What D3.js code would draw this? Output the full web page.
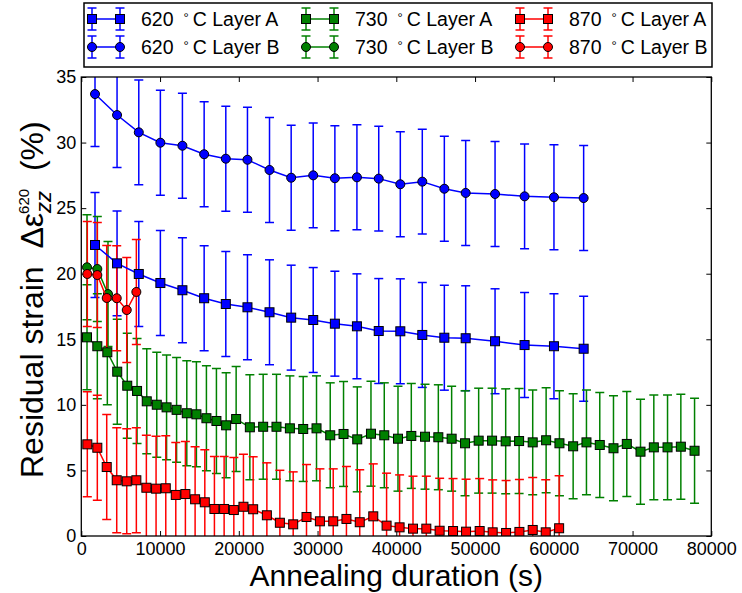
<!DOCTYPE html>
<html>
<head>
<meta charset="utf-8">
<script src="https://cdn.jsdelivr.net/npm/d3@7"></script>
<style>
  html, body { margin: 0; padding: 0; background: #fff; }
  svg { display: block; }
  text { font-family: "Liberation Sans", Arial, sans-serif; fill: #000; }
</style>
</head>
<body>
<svg id="chart" width="742" height="593"></svg>
<script>
// Annealing time (s) and residual strain (%) per anneal temperature and layer
const time620 = [1740, 4540, 7300, 10040, 12840, 15600, 18350, 21100, 23900, 26650, 29450,
  32200, 35000, 37770, 40510, 43300, 46100, 48810, 52540, 56290, 60020, 63790];
const strain620A = [22.19, 20.79, 19.98, 19.29, 18.74, 18.13, 17.69, 17.44, 17.06, 16.65, 16.47,
  16.19, 15.99, 15.63, 15.61, 15.33, 15.12, 15.08, 14.85, 14.56, 14.47, 14.28];
const strain620B = [33.70, 32.10, 30.78, 29.99, 29.76, 29.11, 28.77, 28.69, 27.91, 27.32, 27.50,
  27.28, 27.35, 27.25, 26.82, 27.02, 26.48, 26.16, 26.08, 25.90, 25.83, 25.77];

const time730A = [724, 2034, 3305, 4563, 5834, 7079, 8312, 9583, 10829, 12100, 13396, 14617,
  15888, 17159, 18391, 19662, 21404, 23094, 24785, 26488, 28178, 29869, 31610, 33300, 35041,
  36783, 38473, 40215, 41905, 43646, 45337, 47027, 48730, 50459, 52162, 53890, 55594, 57322,
  59025, 60716, 62457, 64147, 65838, 67579, 69270, 71011, 72701, 74443, 76133, 77874];
const strain730A = [15.15, 14.47, 14.01, 12.53, 11.46, 11.06, 10.27, 10.01, 9.81, 9.62, 9.36, 9.28,
  8.98, 8.77, 8.44, 8.92, 8.29, 8.33, 8.33, 8.21, 8.16, 8.21, 7.68, 7.78, 7.37,
  7.80, 7.68, 7.42, 7.63, 7.57, 7.53, 7.42, 7.07, 7.27, 7.27, 7.22, 7.24, 7.14,
  7.30, 7.07, 6.84, 7.14, 6.94, 6.69, 7.02, 6.43, 6.76, 6.76, 6.81, 6.50];
const time730B = [724, 2034, 3390];
const strain730B = [20.49, 20.36, 18.45];

const time870A = [763, 2034, 3228, 4499, 5770, 6991, 8262, 9494, 10727, 11998, 13218, 14451,
  15684, 16904, 18137, 19370, 20590, 21823, 23564, 25216, 26907, 28598, 30300, 31991, 33669,
  35359, 37075, 38766, 40418, 42121, 43811, 45502, 47205, 48858, 50586, 52239, 53941, 55632,
  57322, 58975, 60677];
const strain870A = [6.99, 6.73, 5.26, 4.25, 4.17, 4.25, 3.68, 3.61, 3.64, 3.13, 3.20, 2.80,
  2.57, 2.06, 2.06, 1.98, 2.23, 2.04, 1.58, 1.01, 0.89, 1.45, 1.12, 1.12, 1.30,
  1.05, 1.50, 0.79, 0.66, 0.56, 0.56, 0.40, 0.38, 0.33, 0.38, 0.28, 0.23, 0.31,
  0.46, 0.28, 0.59];
const time870B = [763, 2034, 3228, 4499, 5770, 6991];
const strain870B = [19.98, 19.90, 18.15, 18.13, 17.23, 18.61];

// Measurement uncertainty (± %, same for every point)
const strainError = 4.0;

const temperatures = ["620", "730", "870"];
const layers = ["A", "B"];
const xTicks = [0, 10000, 20000, 30000, 40000, 50000, 60000, 70000, 80000];
const yTicks = [0, 5, 10, 15, 20, 25, 30, 35];

const colors = { "620": "#0000ff", "730": "#008000", "870": "#ff0000" };
const series = [
  { temp: "620", layer: "A", t: time620, v: strain620A },
  { temp: "620", layer: "B", t: time620, v: strain620B },
  { temp: "730", layer: "A", t: time730A, v: strain730A },
  { temp: "730", layer: "B", t: time730B, v: strain730B },
  { temp: "870", layer: "A", t: time870A, v: strain870A },
  { temp: "870", layer: "B", t: time870B, v: strain870B }
];

const svg = d3.select("#chart");
const plot = { left: 81.3, right: 711.3, top: 77, bottom: 536 };

const x = d3.scaleLinear().domain([0, 80000]).range([plot.left, plot.right]);
const y = d3.scaleLinear().domain([0, 35]).range([plot.bottom, plot.top]);

svg.append("defs").append("clipPath").attr("id", "plotClip")
  .append("rect")
  .attr("x", plot.left).attr("y", plot.top)
  .attr("width", plot.right - plot.left).attr("height", plot.bottom - plot.top);

// Axes: inward ticks on all four sides, labels on bottom and left
const tickFont = "18px";
const gx = svg.append("g").attr("transform", `translate(0,${plot.bottom})`)
  .call(d3.axisBottom(x).tickValues(xTicks).tickFormat(d3.format("d"))
    .tickSizeInner(-5).tickSizeOuter(0).tickPadding(6));
const gy = svg.append("g").attr("transform", `translate(${plot.left},0)`)
  .call(d3.axisLeft(y).tickValues(yTicks).tickFormat(d3.format("d"))
    .tickSizeInner(-5).tickSizeOuter(0).tickPadding(5));
const gxTop = svg.append("g").attr("transform", `translate(0,${plot.top})`)
  .call(d3.axisTop(x).tickValues(xTicks).tickFormat("").tickSizeInner(-5).tickSizeOuter(0));
const gyRight = svg.append("g").attr("transform", `translate(${plot.right},0)`)
  .call(d3.axisRight(y).tickValues(yTicks).tickFormat("").tickSizeInner(-5).tickSizeOuter(0));

[gx, gy, gxTop, gyRight].forEach(g => {
  g.select(".domain").remove();
  g.selectAll(".tick line").attr("stroke", "#000").attr("stroke-width", 1);
  g.selectAll(".tick text")
    .style("font-family", '"Liberation Sans", Arial, sans-serif')
    .style("font-size", tickFont).attr("fill", "#000");
});

// Error bars
const capHalf = 4.5;
const dataLayer = svg.append("g").attr("clip-path", "url(#plotClip)");

series.forEach(s => {
  const g = dataLayer.append("g").attr("stroke", colors[s.temp]).attr("stroke-width", 1.5);
  const pts = s.t.map((t, i) => ({ t, v: s.v[i] }));
  g.selectAll("line.bar").data(pts).enter().append("line")
    .attr("x1", d => x(d.t)).attr("x2", d => x(d.t))
    .attr("y1", d => y(d.v - strainError)).attr("y2", d => y(d.v + strainError));
  g.selectAll("line.capLo").data(pts).enter().append("line")
    .attr("x1", d => x(d.t) - capHalf).attr("x2", d => x(d.t) + capHalf)
    .attr("y1", d => y(d.v - strainError)).attr("y2", d => y(d.v - strainError));
  g.selectAll("line.capHi").data(pts).enter().append("line")
    .attr("x1", d => x(d.t) - capHalf).attr("x2", d => x(d.t) + capHalf)
    .attr("y1", d => y(d.v + strainError)).attr("y2", d => y(d.v + strainError));
});

// Lines and markers
const line = d3.line().x(d => x(d.t)).y(d => y(d.v));
const sq = 9, rad = 4.5;

function drawMarker(g, layer, cx, cy, color) {
  if (layer === "A") {
    g.append("rect").attr("x", cx - sq / 2).attr("y", cy - sq / 2)
      .attr("width", sq).attr("height", sq)
      .attr("fill", color).attr("stroke", "#000").attr("stroke-width", 1);
  } else {
    g.append("circle").attr("cx", cx).attr("cy", cy).attr("r", rad)
      .attr("fill", color).attr("stroke", "#000").attr("stroke-width", 1);
  }
}

series.forEach(s => {
  const pts = s.t.map((t, i) => ({ t, v: s.v[i] }));
  dataLayer.append("path").datum(pts)
    .attr("d", line).attr("fill", "none")
    .attr("stroke", colors[s.temp]).attr("stroke-width", 1.5);
  const mg = dataLayer.append("g");
  pts.forEach(d => drawMarker(mg, s.layer, x(d.t), y(d.v), colors[s.temp]));
});

// Plot frame
svg.append("rect")
  .attr("x", plot.left).attr("y", plot.top)
  .attr("width", plot.right - plot.left).attr("height", plot.bottom - plot.top)
  .attr("fill", "none").attr("stroke", "#000").attr("stroke-width", 1.3);

// Axis titles
svg.append("text")
  .attr("x", (plot.left + plot.right) / 2).attr("y", 586)
  .attr("text-anchor", "middle")
  .style("font-size", "30px")
  .text("Annealing duration (s)");

const yTitle = svg.append("text")
  .attr("transform", "translate(43,478) rotate(-90)")
  .attr("text-anchor", "start")
  .style("font-size", "32px")
  .style("white-space", "pre");
yTitle.append("tspan").text("Residual strain  Δε");
yTitle.append("tspan").attr("dy", 8).style("font-size", "22px").style("font-style", "italic").text("zz");
yTitle.append("tspan").attr("dx", -23).attr("dy", -22).style("font-size", "15px").text("620");
yTitle.append("tspan").attr("dy", 14).text("  (%)");

// Legend
const legend = svg.append("g");
legend.append("rect")
  .attr("x", 84).attr("y", 3).attr("width", 628).attr("height", 64)
  .attr("fill", "#fff").attr("stroke", "#000").attr("stroke-width", 1.5);

const colX = [92, 306, 520];
const rowY = [19, 47];
temperatures.forEach((temp, ci) => {
  layers.forEach((layer, ri) => {
    const x0 = colX[ci], x1 = colX[ci] + 28, cy = rowY[ri];
    const g = legend.append("g");
    const c = colors[temp];
    [x0, x1].forEach(xx => {
      g.append("line").attr("x1", xx).attr("x2", xx).attr("y1", cy - 11).attr("y2", cy + 11)
        .attr("stroke", c).attr("stroke-width", 1.5);
      [cy - 11, cy + 11].forEach(yy => g.append("line")
        .attr("x1", xx - capHalf).attr("x2", xx + capHalf).attr("y1", yy).attr("y2", yy)
        .attr("stroke", c).attr("stroke-width", 1.5));
    });
    g.append("line").attr("x1", x0).attr("x2", x1).attr("y1", cy).attr("y2", cy)
      .attr("stroke", c).attr("stroke-width", 1.5);
    drawMarker(g, layer, x0, cy, c);
    drawMarker(g, layer, x1, cy, c);

    const t = legend.append("text").attr("x", x0 + 49).attr("y", cy + 7)
      .style("font-size", "19.5px");
    t.append("tspan").text(temp);
    t.append("tspan").attr("dx", 10).attr("dy", -4).style("font-size", "13px").text("°");
    t.append("tspan").attr("dx", 4).attr("dy", 4).text(`C Layer ${layer}`);
  });
});
</script>
</body>
</html>
